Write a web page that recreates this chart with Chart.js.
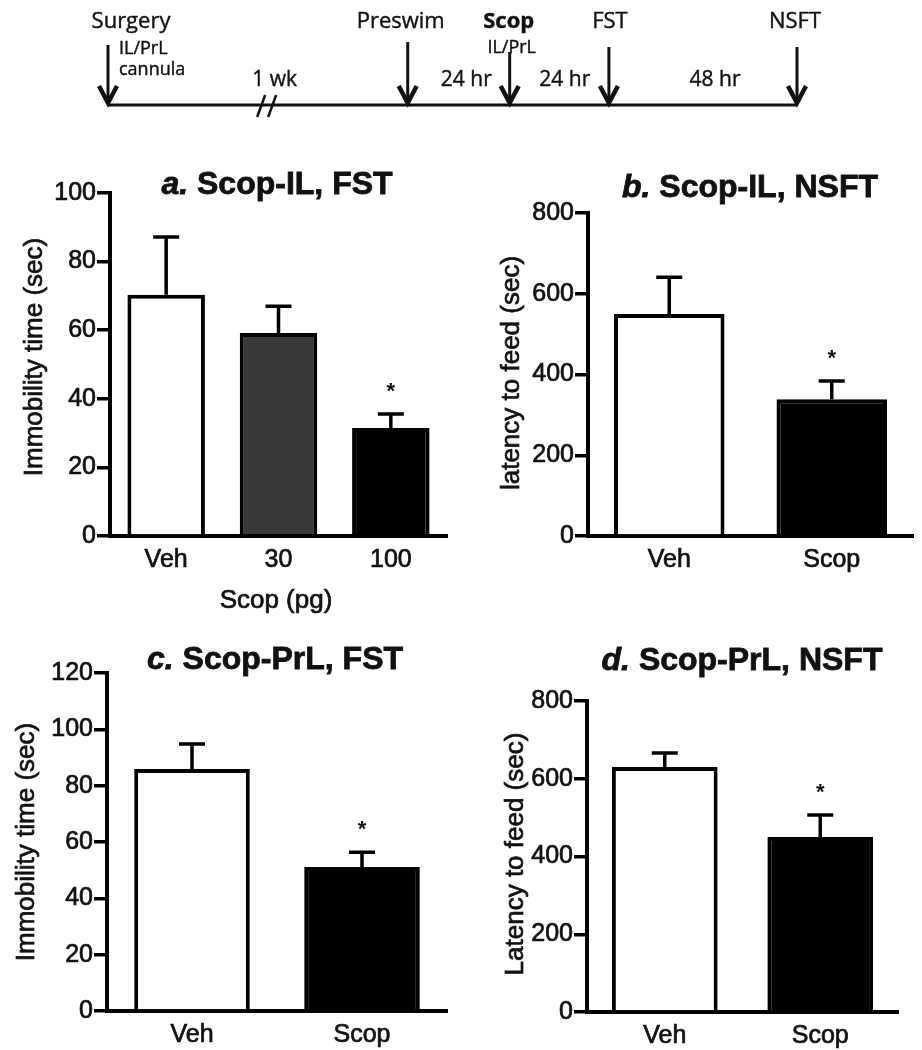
<!DOCTYPE html>
<html>
<head>
<meta charset="utf-8">
<script src="https://cdn.jsdelivr.net/npm/chart.js@4.4.0/dist/chart.umd.min.js"></script>
<style>
  html, body { margin: 0; padding: 0; background: #fff; }
  #page { position: relative; width: 922px; height: 1050px; overflow: hidden; }
  canvas { position: absolute; }
</style>
</head>
<body>
<div id="page">
  <canvas id="timeline" width="922" height="140" style="left:0;top:0"></canvas>
  <canvas id="panelA" width="460" height="480" style="left:0;top:140px"></canvas>
  <canvas id="panelB" width="452" height="480" style="left:470px;top:140px"></canvas>
  <canvas id="panelC" width="460" height="430" style="left:0;top:620px"></canvas>
  <canvas id="panelD" width="452" height="430" style="left:470px;top:620px"></canvas>
</div>
<script>
// Timeline (positions along the line, 0 = surgery, 1 = NSFT)
const timelineEvents = ['Surgery', 'Preswim', 'Scop', 'FST', 'NSFT'];
const timelineEventPos = [0, 0.435, 0.583, 0.727, 1];
const timelineGaps = ['1 wk', '24 hr', '24 hr', '48 hr'];
const timelineGapPos = [0.242, 0.52, 0.663, 0.881];
const timelineBreakPos = 0.231;

// a. Scop-IL, FST
const catsA = ['Veh', '30', '100'];
const meanA = [70.3, 59.2, 31.5];
const semA = [16.9, 7.8, 4.1];
const sigA = [false, false, true];
const ticksA = [0, 20, 40, 60, 80, 100];

// b. Scop-IL, NSFT
const catsB = ['Veh', 'Scop'];
const meanB = [550, 339];
const semB = [91, 45];
const sigB = [false, true];
const ticksB = [0, 200, 400, 600, 800];

// c. Scop-PrL, FST
const catsC = ['Veh', 'Scop'];
const meanC = [85.9, 51.1];
const semC = [8.9, 5.3];
const sigC = [false, true];
const ticksC = [0, 20, 40, 60, 80, 100, 120];

// d. Scop-PrL, NSFT
const catsD = ['Veh', 'Scop'];
const meanD = [630, 450];
const semD = [36, 57];
const sigD = [false, true];
const ticksD = [0, 200, 400, 600, 800];

const FONT = '"Liberation Sans", Arial, Helvetica, sans-serif';
const TLFONT = '"Open Sans", "Noto Sans", sans-serif';
const INK = '#111';

// filled text with a hairline stroke so it reads as heavy as the scan
function inkText(ctx, str, x, y, w) {
    ctx.lineWidth = w || 0.6;
    ctx.strokeStyle = INK;
    ctx.fillText(str, x, y);
    ctx.strokeText(str, x, y);
}

// ---- timeline drawn on top of a hidden-axis chart ----
const timelinePlugin = {
    id: 'timelineDraw',
    afterDraw(chart) {
        const ctx = chart.ctx;
        const xs = chart.scales.x;
        const base = chart.chartArea.bottom;
        const arrowTops = [45, 42, 52, 47, 47];
        const labelShift = [23, -7, -1, 1, -2];

        ctx.save();
        ctx.strokeStyle = INK;
        ctx.fillStyle = INK;

        // main line
        ctx.lineWidth = 3;
        ctx.beginPath();
        ctx.moveTo(xs.getPixelForValue(0), base);
        ctx.lineTo(xs.getPixelForValue(1), base);
        ctx.stroke();

        // break marks
        const bx = xs.getPixelForValue(timelineBreakPos);
        ctx.lineWidth = 2.5;
        ctx.beginPath();
        ctx.moveTo(bx - 10, base + 12); ctx.lineTo(bx - 2, base - 10);
        ctx.moveTo(bx + 1, base + 12); ctx.lineTo(bx + 9, base - 10);
        ctx.stroke();

        // arrows + labels
        timelineEvents.forEach((name, i) => {
            const x = xs.getPixelForValue(timelineEventPos[i]);
            ctx.lineWidth = 3;
            ctx.beginPath();
            ctx.moveTo(x, arrowTops[i]);
            ctx.lineTo(x, base - 2);
            ctx.stroke();
            ctx.lineWidth = 4.5;
            ctx.beginPath();
            ctx.moveTo(x - 9, base - 19);
            ctx.lineTo(x, base - 2);
            ctx.lineTo(x + 9, base - 19);
            ctx.stroke();

            ctx.font = (name === 'Scop' ? 'bold ' : '') + '22px ' + TLFONT;
            ctx.textAlign = 'center';
            ctx.textBaseline = 'middle';
            inkText(ctx, name, x + labelShift[i], 22, 0.4);
        });

        // small notes
        ctx.font = '18px ' + TLFONT;
        ctx.textBaseline = 'middle';
        const x0 = xs.getPixelForValue(timelineEventPos[0]);
        ctx.textAlign = 'left';
        inkText(ctx, 'IL/PrL', x0 + 11, 49, 0.4);
        inkText(ctx, 'cannula', x0 + 11, 70, 0.4);
        ctx.textAlign = 'center';
        inkText(ctx, 'IL/PrL', xs.getPixelForValue(timelineEventPos[2]) + 2, 48, 0.4);

        // gap labels
        ctx.font = '21px ' + TLFONT;
        timelineGaps.forEach((g, i) => {
            inkText(ctx, g, xs.getPixelForValue(timelineGapPos[i]), 80, 0.4);
        });
        ctx.restore();
    }
};

new Chart(document.getElementById('timeline'), {
    type: 'scatter',
    data: { datasets: [{ data: timelineEventPos.map(p => ({ x: p, y: 0 })), pointRadius: 0 }] },
    options: {
        responsive: false,
        animation: false,
        devicePixelRatio: 1,
        events: [],
        layout: { padding: { left: 108, right: 125, top: 0, bottom: 35 } },
        scales: {
            x: { display: false, min: 0, max: 1 },
            y: { display: false, min: 0, max: 1 }
        },
        plugins: { legend: { display: false }, tooltip: { enabled: false } }
    },
    plugins: [timelinePlugin]
});

// ---- bar panels ----
function makePanel(id, p) {
    const box = p.box, area = p.area;
    const yMin = p.yTicks[0];
    const yMax = p.yTicks[p.yTicks.length - 1];

    const decor = {
        id: 'decor_' + id,
        afterDraw(chart) {
            const ctx = chart.ctx;
            const ys = chart.scales.y;
            const meta = chart.getDatasetMeta(0);
            ctx.save();
            ctx.strokeStyle = '#000';
            ctx.fillStyle = INK;

            // error bars (upper only) and significance stars
            meta.data.forEach((bar, i) => {
                const yTop = ys.getPixelForValue(p.means[i]);
                const yErr = ys.getPixelForValue(p.means[i] + p.sems[i]);
                ctx.strokeStyle = '#000';
                ctx.lineWidth = 3.5;
                ctx.beginPath();
                ctx.moveTo(bar.x, yTop);
                ctx.lineTo(bar.x, yErr);
                ctx.moveTo(bar.x - 13, yErr);
                ctx.lineTo(bar.x + 13, yErr);
                ctx.stroke();
                if (p.sig[i]) {
                    ctx.font = 'bold 22px ' + FONT;
                    ctx.textAlign = 'center';
                    ctx.textBaseline = 'alphabetic';
                    ctx.fillText('*', bar.x, yErr - 29 + 0.58 * 22);
                }
            });

            // panel title: italic letter + bold text
            const tx = p.titlePos[0] - box.left, ty = p.titlePos[1] - box.top;
            ctx.textBaseline = 'middle';
            ctx.textAlign = 'left';
            const fLetter = 'italic bold 32px ' + FONT;
            const fRest = 'bold 32px ' + FONT;
            ctx.font = fLetter;
            const wl = ctx.measureText(p.letter).width;
            ctx.font = fRest;
            const wr = ctx.measureText(p.title).width;
            const sx = tx - (wl + wr) / 2;
            ctx.font = fLetter;
            inkText(ctx, p.letter, sx, ty, 0.8);
            ctx.font = fRest;
            inkText(ctx, p.title, sx + wl, ty, 0.8);

            // y axis title
            ctx.save();
            ctx.translate(p.yTitlePos[0] - box.left, p.yTitlePos[1] - box.top);
            ctx.rotate(-Math.PI / 2);
            ctx.font = '26px ' + FONT;
            ctx.textAlign = 'center';
            ctx.textBaseline = 'middle';
            inkText(ctx, p.yTitle, 0, 0, 0.7);
            ctx.restore();

            // x axis title
            if (p.xTitle) {
                ctx.font = '26px ' + FONT;
                ctx.textAlign = 'center';
                ctx.textBaseline = 'middle';
                inkText(ctx, p.xTitle, p.xTitlePos[0] - box.left, p.xTitlePos[1] - box.top, 0.7);
            }
            ctx.restore();
        }
    };

    return new Chart(document.getElementById(id), {
        type: 'bar',
        data: {
            labels: p.labels,
            datasets: [{
                data: p.means,
                backgroundColor: p.fills,
                borderColor: '#000',
                borderWidth: 4,
                borderSkipped: 'bottom',
                barPercentage: p.barPct,
                categoryPercentage: 1
            }]
        },
        options: {
            responsive: false,
            animation: false,
            devicePixelRatio: 1,
            events: [],
            layout: {
                padding: {
                    left: 0,
                    top: area.top - box.top,
                    right: box.w - (area.right - box.left),
                    bottom: 0
                }
            },
            scales: {
                x: {
                    grid: { display: false, drawTicks: false },
                    border: { display: true, color: '#000', width: 4 },
                    ticks: {
                        color: INK, font: { family: FONT, size: 25 }, padding: 9,
                        textStrokeColor: INK, textStrokeWidth: 0.7
                    },
                    afterFit: s => { s.height = box.h - (area.bottom - box.top); }
                },
                y: {
                    min: yMin,
                    max: yMax,
                    ticks: {
                        stepSize: p.yTicks[1] - p.yTicks[0],
                        color: INK,
                        font: { family: FONT, size: 25 },
                        padding: 1,
                        textStrokeColor: INK,
                        textStrokeWidth: 0.7
                    },
                    grid: { drawOnChartArea: false, drawTicks: true, tickLength: 13, color: '#000', lineWidth: 3.5 },
                    border: { display: true, color: '#000', width: 4 },
                    afterFit: s => { s.width = area.left - box.left; }
                }
            },
            plugins: { legend: { display: false }, tooltip: { enabled: false } }
        },
        plugins: [decor]
    });
}

makePanel('panelA', {
    labels: catsA, means: meanA, sems: semA, sig: sigA, yTicks: ticksA,
    fills: ['#ffffff', '#383838', '#000000'], barPct: 0.69,
    letter: 'a.', title: ' Scop-IL, FST', yTitle: 'Immobility time (sec)', xTitle: 'Scop (pg)',
    box: { left: 0, top: 140, w: 460, h: 480 },
    area: { left: 110, right: 447, top: 193, bottom: 536 },
    titlePos: [277, 185], yTitlePos: [35, 357], xTitlePos: [276, 601]
});

makePanel('panelB', {
    labels: catsB, means: meanB, sems: semB, sig: sigB, yTicks: ticksB,
    fills: ['#ffffff', '#000000'], barPct: 0.68,
    letter: 'b.', title: ' Scop-IL, NSFT', yTitle: 'latency to feed (sec)',
    box: { left: 470, top: 140, w: 452, h: 480 },
    area: { left: 588, right: 913, top: 213, bottom: 536 },
    titlePos: [750, 188], yTitlePos: [512, 373]
});

makePanel('panelC', {
    labels: catsC, means: meanC, sems: semC, sig: sigC, yTicks: ticksC,
    fills: ['#ffffff', '#000000'], barPct: 0.68,
    letter: 'c.', title: ' Scop-PrL, FST', yTitle: 'Immobility time (sec)',
    box: { left: 0, top: 620, w: 460, h: 430 },
    area: { left: 107, right: 447, top: 673, bottom: 1011 },
    titlePos: [275, 660], yTitlePos: [27, 842]
});

makePanel('panelD', {
    labels: catsD, means: meanD, sems: semD, sig: sigD, yTicks: ticksD,
    fills: ['#ffffff', '#000000'], barPct: 0.68,
    letter: 'd.', title: ' Scop-PrL, NSFT', yTitle: 'Latency to feed (sec)',
    box: { left: 470, top: 620, w: 452, h: 430 },
    area: { left: 587, right: 898, top: 701, bottom: 1012 },
    titlePos: [742, 661], yTitlePos: [516, 854]
});
</script>
</body>
</html>
